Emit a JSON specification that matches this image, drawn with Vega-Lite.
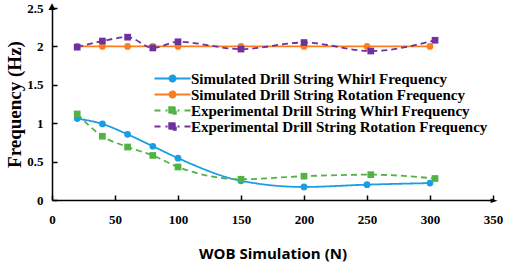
{
  "$schema": "https://vega.github.io/schema/vega-lite/v6.json",
  "width": 441,
  "height": 192,
  "autosize": "none",
  "padding": {"left": 52, "top": 8, "right": 12, "bottom": 63},
  "background": "white",
  "config": {"view": {"stroke": null}, "axis": {"labelOverlap": false}},
  "data": {"values": [
      {"series": "Simulated Drill String Whirl Frequency", "wob": 20, "freq": 1.06},
      {"series": "Simulated Drill String Whirl Frequency", "wob": 40, "freq": 0.99},
      {"series": "Simulated Drill String Whirl Frequency", "wob": 60, "freq": 0.855},
      {"series": "Simulated Drill String Whirl Frequency", "wob": 80, "freq": 0.70},
      {"series": "Simulated Drill String Whirl Frequency", "wob": 100, "freq": 0.545},
      {"series": "Simulated Drill String Whirl Frequency", "wob": 150, "freq": 0.25},
      {"series": "Simulated Drill String Whirl Frequency", "wob": 200, "freq": 0.17},
      {"series": "Simulated Drill String Whirl Frequency", "wob": 250, "freq": 0.20},
      {"series": "Simulated Drill String Whirl Frequency", "wob": 300, "freq": 0.22},
      {"series": "Simulated Drill String Rotation Frequency", "wob": 20, "freq": 2.0},
      {"series": "Simulated Drill String Rotation Frequency", "wob": 40, "freq": 2.0},
      {"series": "Simulated Drill String Rotation Frequency", "wob": 60, "freq": 2.0},
      {"series": "Simulated Drill String Rotation Frequency", "wob": 80, "freq": 2.0},
      {"series": "Simulated Drill String Rotation Frequency", "wob": 100, "freq": 2.0},
      {"series": "Simulated Drill String Rotation Frequency", "wob": 150, "freq": 2.0},
      {"series": "Simulated Drill String Rotation Frequency", "wob": 200, "freq": 2.0},
      {"series": "Simulated Drill String Rotation Frequency", "wob": 250, "freq": 2.0},
      {"series": "Simulated Drill String Rotation Frequency", "wob": 300, "freq": 2.0},
      {"series": "Experimental Drill String Whirl Frequency", "wob": 20, "freq": 1.12},
      {"series": "Experimental Drill String Whirl Frequency", "wob": 40, "freq": 0.83},
      {"series": "Experimental Drill String Whirl Frequency", "wob": 60, "freq": 0.69},
      {"series": "Experimental Drill String Whirl Frequency", "wob": 80, "freq": 0.58},
      {"series": "Experimental Drill String Whirl Frequency", "wob": 100, "freq": 0.43},
      {"series": "Experimental Drill String Whirl Frequency", "wob": 150, "freq": 0.27},
      {"series": "Experimental Drill String Whirl Frequency", "wob": 200, "freq": 0.31},
      {"series": "Experimental Drill String Whirl Frequency", "wob": 253, "freq": 0.33},
      {"series": "Experimental Drill String Whirl Frequency", "wob": 304, "freq": 0.28},
      {"series": "Experimental Drill String Rotation Frequency", "wob": 20, "freq": 1.99},
      {"series": "Experimental Drill String Rotation Frequency", "wob": 40, "freq": 2.07},
      {"series": "Experimental Drill String Rotation Frequency", "wob": 60, "freq": 2.12},
      {"series": "Experimental Drill String Rotation Frequency", "wob": 80, "freq": 1.98},
      {"series": "Experimental Drill String Rotation Frequency", "wob": 100, "freq": 2.06},
      {"series": "Experimental Drill String Rotation Frequency", "wob": 150, "freq": 1.965},
      {"series": "Experimental Drill String Rotation Frequency", "wob": 200, "freq": 2.05},
      {"series": "Experimental Drill String Rotation Frequency", "wob": 253, "freq": 1.94},
      {"series": "Experimental Drill String Rotation Frequency", "wob": 304, "freq": 2.08}
  ]},
  "encoding": {
    "x": {
      "field": "wob", "type": "quantitative",
      "scale": {"domain": [0, 350], "nice": false},
      "axis": {
        "title": "WOB Simulation (N)",
        "values": [0, 50, 100, 150, 200, 250, 300, 350],
        "grid": false, "domainColor": "black", "domainWidth": 1.5,
        "tickColor": "black", "tickSize": -5, "tickWidth": 1.5,
        "labelFont": "Liberation Serif", "labelFontWeight": "bold", "labelFontSize": 13, "labelColor": "black",
        "labelPadding": 18, "labelFlush": false,
        "titleFont": "Open Sans", "titleFontWeight": "bold", "titleFontSize": 15, "titleColor": "black",
        "titlePadding": 20
      }
    },
    "y": {
      "field": "freq", "type": "quantitative",
      "scale": {"domain": [0, 2.5], "nice": false},
      "axis": {
        "title": "Frequency (Hz)",
        "values": [0, 0.5, 1, 1.5, 2, 2.5],
        "format": "~g",
        "grid": false, "domainColor": "black", "domainWidth": 1.5,
        "tickColor": "black", "tickSize": -5, "tickWidth": 1.5,
        "labelFont": "Liberation Serif", "labelFontWeight": "bold", "labelFontSize": 13, "labelColor": "black",
        "labelPadding": 14, "labelFlush": false,
        "titleFont": "Liberation Serif", "titleFontWeight": "bold", "titleFontSize": 19, "titleColor": "black",
        "titlePadding": 2
      }
    }
  },
  "layer": [
    {
      "mark": {"type": "line", "interpolate": "monotone", "strokeWidth": 1.8},
      "encoding": {
        "color": {
          "field": "series", "type": "nominal",
          "scale": {
            "domain": ["Simulated Drill String Whirl Frequency", "Simulated Drill String Rotation Frequency", "Experimental Drill String Whirl Frequency", "Experimental Drill String Rotation Frequency"],
            "range": ["#1b9de2", "#fb7d1e", "#52b244", "#7030a0"]
          },
          "legend": {
            "orient": "none", "legendX": 113, "legendY": 63,
            "title": null,
            "padding": 0,
            "symbolSize": 100,
            "symbolType": "M-1,0H1",
            "symbolStrokeWidth": 2,
            "labelFont": "Liberation Serif", "labelFontWeight": "bold", "labelFontSize": 15, "labelColor": "black",
            "labelLimit": 0,
            "labelOffset": 11,
            "rowPadding": 0,
            "encode": {
              "symbols": {
                "update": {
                  "shape": {"signal": "indexof(datum.value, 'Simulated') === 0 ? 'M-3.6,0H3.6M0.6,0A0.6,0.6 0 1,1 -0.6,0A0.6,0.6 0 1,1 0.6,0Z' : 'M-3.6,0H-2.4M-1.4,0H-1.0M1.0,0H1.4M2.4,0H3.6M-0.65,-0.65H0.65V0.65H-0.65Z'"},
                  "fill": {"scale": "color", "field": "value"},
                  "stroke": {"scale": "color", "field": "value"},
                  "strokeWidth": {"value": 2},
                  "opacity": {"value": 1}
                }
              }
            }
          }
        },
        "strokeDash": {
          "field": "series", "type": "nominal",
          "scale": {
            "domain": ["Simulated Drill String Whirl Frequency", "Simulated Drill String Rotation Frequency", "Experimental Drill String Whirl Frequency", "Experimental Drill String Rotation Frequency"],
            "range": [[1, 0], [1, 0], [6, 4], [6, 4]]
          },
          "legend": null
        }
      }
    },
    {
      "transform": [{"filter": "indexof(datum.series, 'Simulated') === 0"}],
      "mark": {"type": "point", "filled": true, "opacity": 1, "shape": "circle", "size": 45},
      "encoding": {
        "color": {"field": "series", "type": "nominal", "legend": null}
      }
    },
    {
      "transform": [{"filter": "indexof(datum.series, 'Experimental') === 0"}],
      "mark": {"type": "point", "filled": true, "opacity": 1, "shape": "square", "size": 45},
      "encoding": {
        "color": {"field": "series", "type": "nominal", "legend": null}
      }
    },
    {
      "data": {"values": [{"wob": 0, "freq": 2.5, "glyph": "▲"}]},
      "mark": {"type": "text", "color": "black", "font": "DejaVu Sans", "fontSize": 9, "baseline": "middle", "align": "center", "dy": -2},
      "encoding": {
        "x": {"field": "wob", "type": "quantitative"},
        "y": {"field": "freq", "type": "quantitative"},
        "text": {"field": "glyph"}
      }
    },
    {
      "data": {"values": [{"wob": 350, "freq": 0, "glyph": "►"}]},
      "mark": {"type": "text", "color": "black", "font": "DejaVu Sans", "fontSize": 9, "baseline": "middle", "align": "center", "dx": 1},
      "encoding": {
        "x": {"field": "wob", "type": "quantitative"},
        "y": {"field": "freq", "type": "quantitative"},
        "text": {"field": "glyph"}
      }
    }
  ]
}
